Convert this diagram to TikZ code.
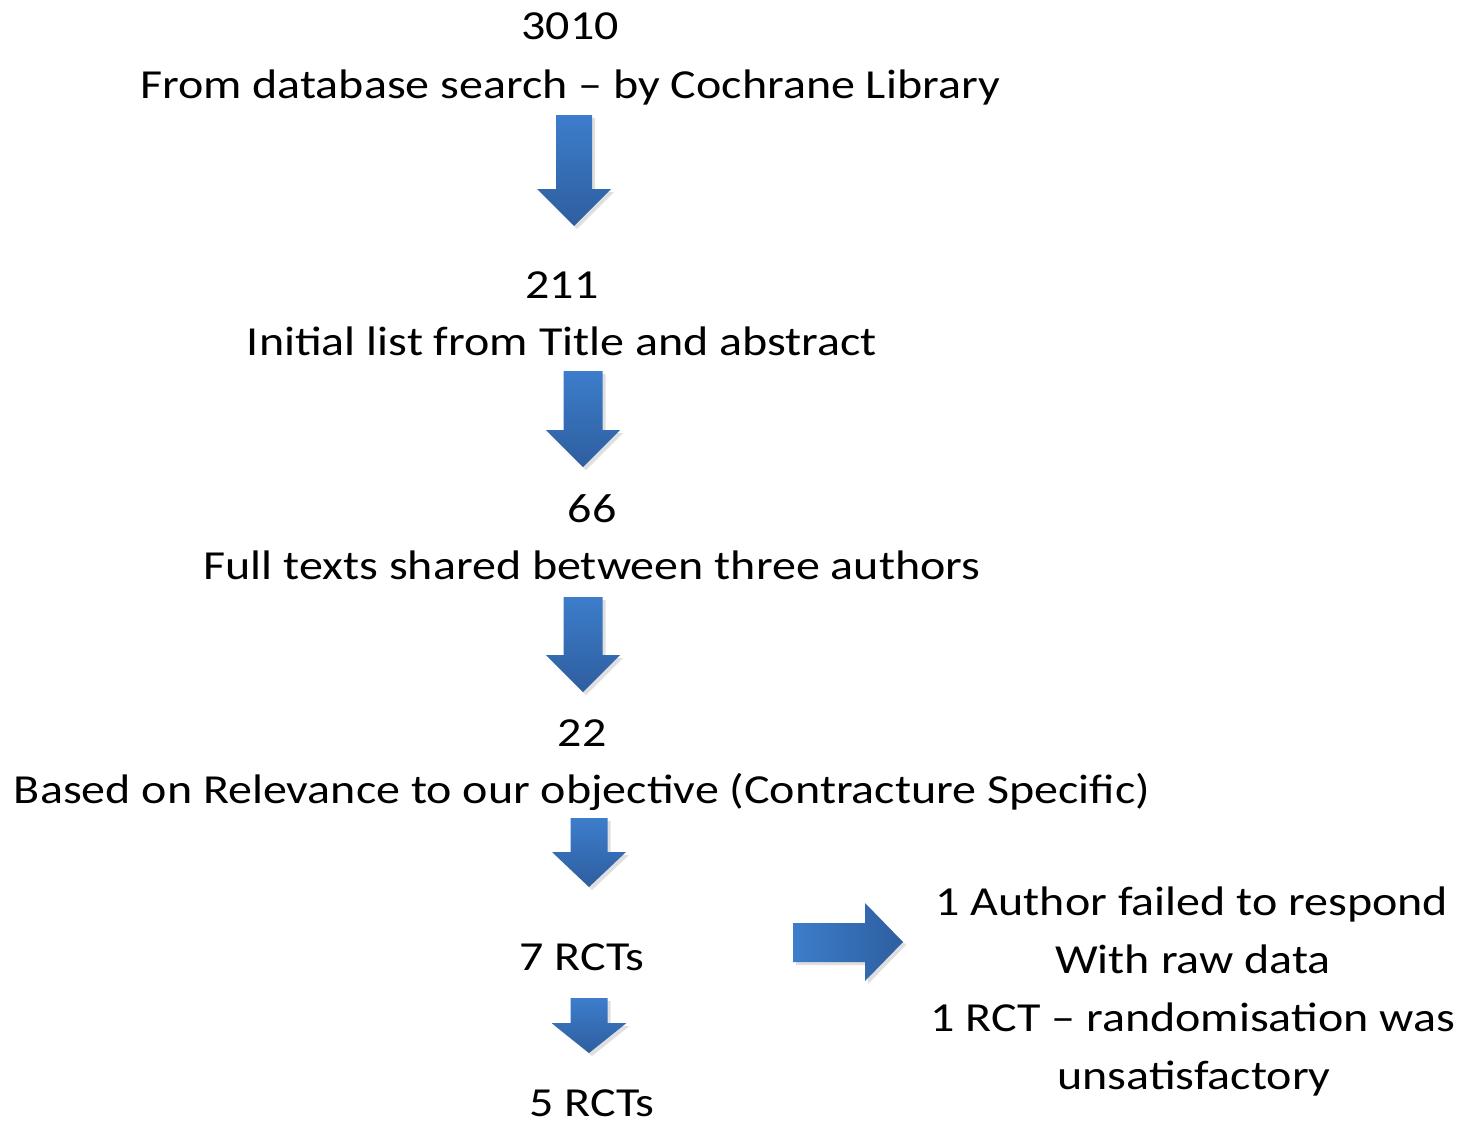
\documentclass[tikz,border=0pt]{standalone}
\usepackage{fontspec}
\setmainfont{Carlito}
\usetikzlibrary{shadows}

\definecolor{arrowtop}{HTML}{3D7DCB}
\definecolor{arrowbot}{HTML}{2E5E9F}

\tikzset{
  lbl/.style={anchor=base, inner sep=0pt, font=\fontsize{24}{29}\selectfont, yscale=0.86},
  blk/.style={top color=arrowtop, bottom color=arrowbot,
    drop shadow={opacity=0.25, shadow xshift=1.5pt, shadow yshift=-1.5pt}},
  blkright/.style={left color=arrowtop, right color=arrowbot,
    drop shadow={opacity=0.25, shadow xshift=1.5pt, shadow yshift=-1.5pt}},
}

% down block arrow: centre x, top, head, tip, shaft half width, head half width
\newcommand{\downblock}[6]{%
  \path[blk] (#1-#5,#2) -- (#1+#5,#2) -- (#1+#5,#3) -- (#1+#6,#3) -- (#1,#4)
    -- (#1-#6,#3) -- (#1-#5,#3) -- cycle;}

\begin{document}
\begin{tikzpicture}[x=0.5pt,y=-0.5pt]
\useasboundingbox (0,0) rectangle (1472,1125);

\node[lbl] (n3010) at (570,39) {3010};
\node[lbl] (t3010) at (570,98) {From database search -- by Cochrane Library};
\node[lbl] (n211) at (562,298) {211};
\node[lbl] (t211) at (562,355) {Initial list from Title and abstract};
\node[lbl] (n66) at (592,522) {66};
\node[lbl] (t66) at (592,579) {Full texts shared between three authors};
\node[lbl] (n22) at (582,746) {22};
\node[lbl] (t22) at (582,803) {Based on Relevance to our objective (Contracture Specific)};
\node[lbl] (rct7) at (582,970) {7 RCTs};
\node[lbl] (rct5) at (592,1116) {5 RCTs};

\node[lbl] (ex1) at (1192,915) {1 Author failed to respond};
\node[lbl] (ex2) at (1193,973) {With raw data};
\node[lbl] (ex3) at (1193,1031) {1 RCT -- randomisation was};
\node[lbl] (ex4) at (1194,1089) {unsatisfactory};

\downblock{574}{115}{189}{226}{18}{37}
\downblock{583}{371}{430}{467}{19.5}{37}
\downblock{583}{597}{655}{692}{19.5}{37}
\downblock{589}{818}{852}{887}{18.5}{37}
\downblock{589}{998}{1023}{1053}{18.5}{37.5}

\path[blkright] (793,923) -- (865,923) -- (865,903) -- (903,942) -- (865,981)
  -- (865,962) -- (793,962) -- cycle;
\end{tikzpicture}
\end{document}
